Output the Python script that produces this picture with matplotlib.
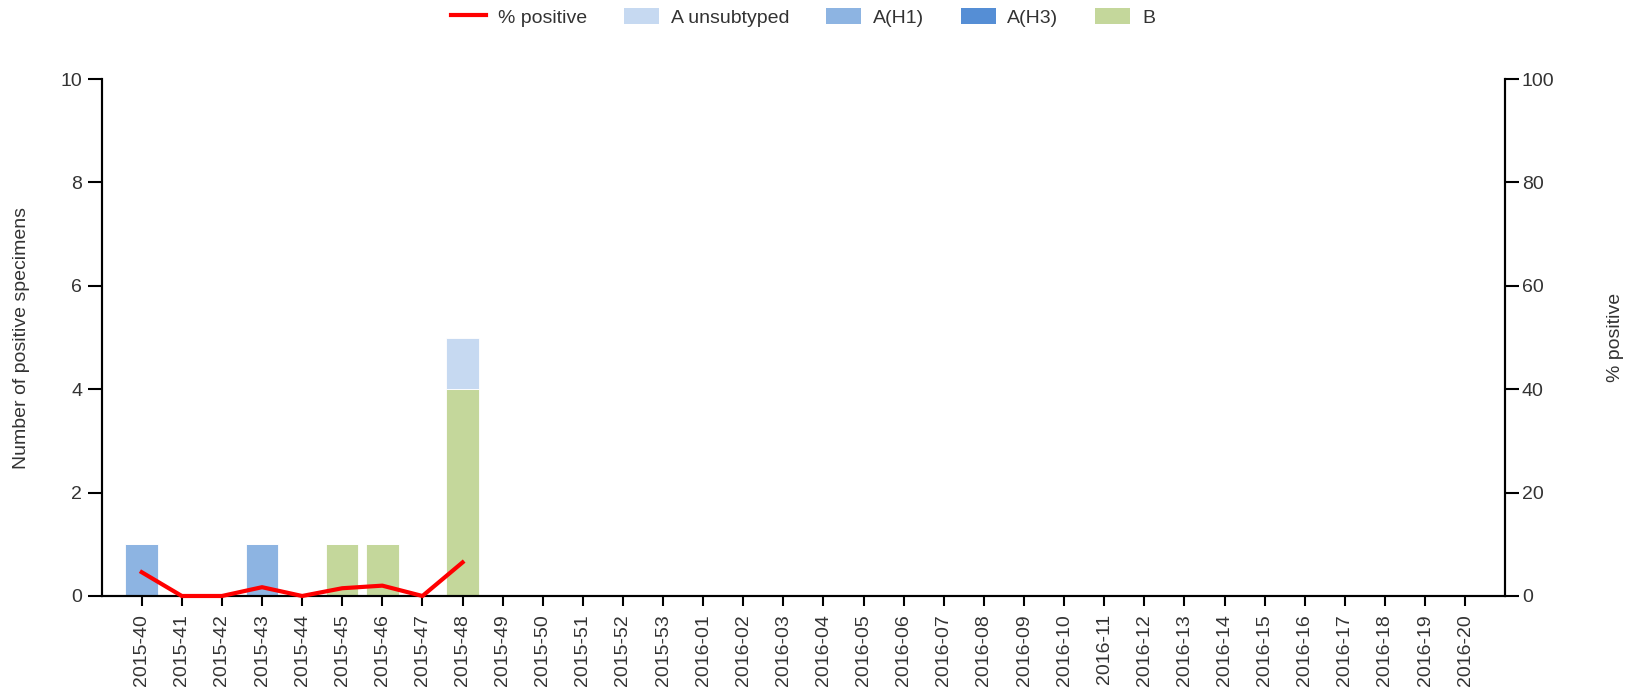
import matplotlib.pyplot as plt
from matplotlib.lines import Line2D
from matplotlib.patches import Patch
import numpy as np

plt.rcParams["font.family"] = ["Liberation Sans", "DejaVu Sans"]

# ====== data ======
weeks = [f"2015-{w}" for w in range(40, 54)] + [f"2016-{w:02d}" for w in range(1, 21)]
n = len(weeks)

a_unsub = np.zeros(n)
a_h1 = np.zeros(n)
a_h3 = np.zeros(n)
b = np.zeros(n)

a_h1[weeks.index("2015-40")] = 1
a_h1[weeks.index("2015-43")] = 1
b[weeks.index("2015-45")] = 1
b[weeks.index("2015-46")] = 1
b[weeks.index("2015-48")] = 4
a_unsub[weeks.index("2015-48")] = 1

pct_positive = [4.6, 0.0, 0.0, 1.7, 0.0, 1.5, 2.0, 0.0, 6.5] + [np.nan] * (n - 9)

# ====== colours ======
c_unsub = "#C6D9F1"
c_h1 = "#8DB4E2"
c_h3 = "#558ED5"
c_b = "#C4D79B"
c_line = "#FF0000"
txt = "#333333"

fig = plt.figure(figsize=(16.39, 6.91), dpi=100)
ax = fig.add_axes([0.062, 0.1375, 0.8564, 0.748])
ax2 = ax.twinx()

x = np.arange(n)
w = 0.81
bottom = np.zeros(n)
# stacked bars: B at the bottom, A unsubtyped on top
for vals, col in [(b, c_b), (a_h3, c_h3), (a_h1, c_h1), (a_unsub, c_unsub)]:
    ax.bar(x, vals, w, bottom=bottom, color=col, edgecolor="white", linewidth=0.6, zorder=2)
    bottom += vals

ax2.plot(x, pct_positive, color=c_line, linewidth=3, clip_on=False, zorder=3)

ax.set_xlim(-1, n)
ax.set_ylim(0, 10)
ax2.set_ylim(0, 100)
ax.set_yticks(np.arange(0, 11, 2))
ax2.set_yticks(np.arange(0, 101, 20))
ax.set_xticks(x)
ax.set_xticklabels(weeks, rotation=90, fontsize=14, color=txt)

for a in (ax, ax2):
    a.spines["top"].set_visible(False)
    for s in ("left", "right", "bottom"):
        a.spines[s].set_linewidth(1.5)
        a.spines[s].set_color("black")
    a.tick_params(width=1.5, length=10, labelsize=14, labelcolor=txt)
ax.tick_params(axis="x", length=7, pad=6)
ax.tick_params(axis="y", pad=4)
ax2.tick_params(axis="y", pad=2)

ax.set_ylabel("Number of positive specimens", fontsize=14, color=txt, labelpad=22)
ax2.set_ylabel("% positive", fontsize=14, color=txt, labelpad=38)

handles = [
    Line2D([], [], color=c_line, linewidth=3),
    Patch(facecolor=c_unsub),
    Patch(facecolor=c_h1),
    Patch(facecolor=c_h3),
    Patch(facecolor=c_b),
]
labels = ["% positive", "A unsubtyped", "A(H1)", "A(H3)", "B"]
fig.legend(handles, labels, loc="center", bbox_to_anchor=(0.49, 0.975), ncol=5,
           frameon=False, fontsize=14, handlelength=1.8, handleheight=0.9,
           columnspacing=1.9, handletextpad=0.6, labelcolor=txt)

fig.savefig("out.png", dpi=100, facecolor="white")
